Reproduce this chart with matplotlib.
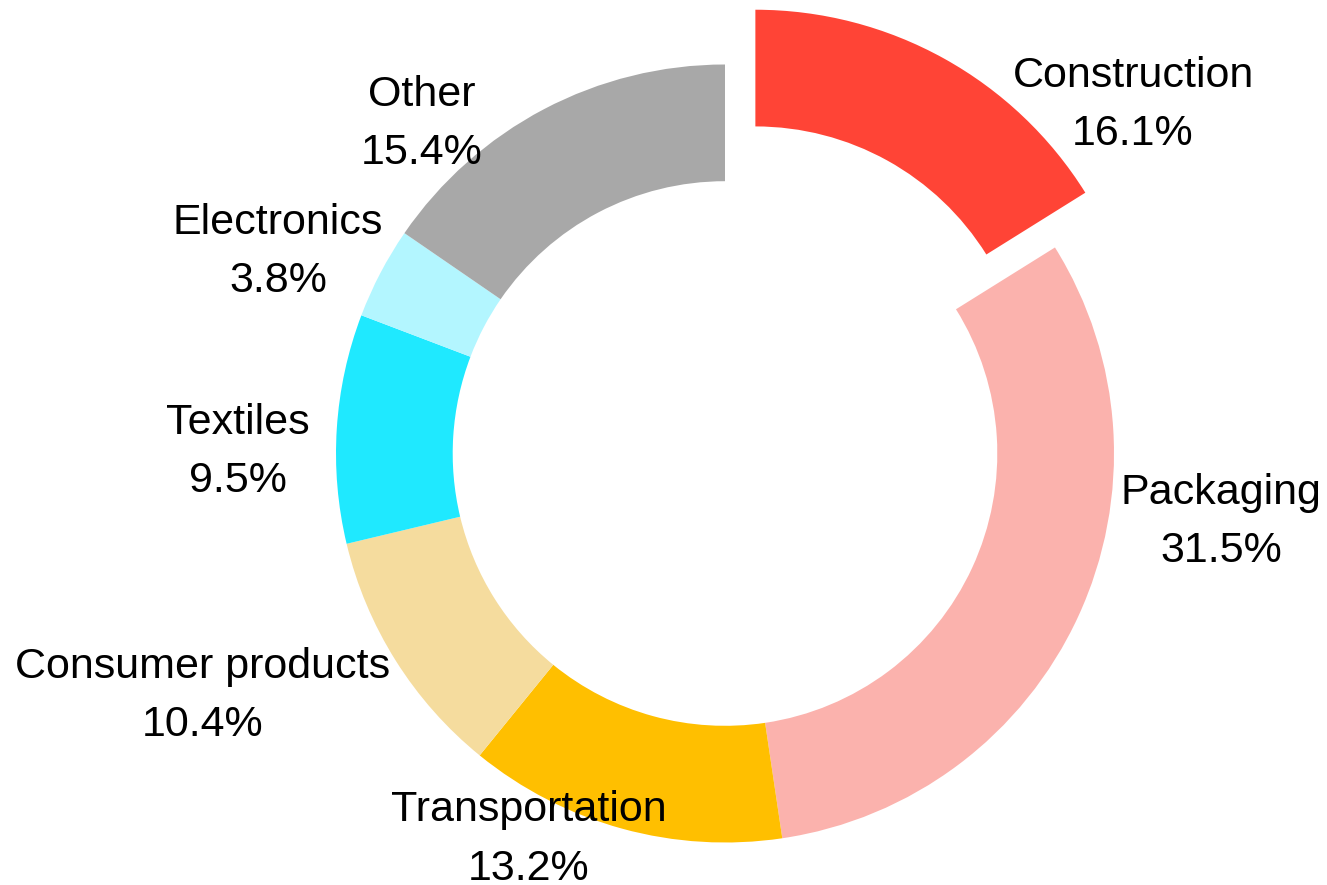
# Plastic use by sector - donut chart
import matplotlib
matplotlib.use("Agg")
import matplotlib.pyplot as plt

sectors = ["Construction", "Packaging", "Transportation", "Consumer products",
           "Textiles", "Electronics", "Other"]
shares = [16.1, 31.5, 13.2, 10.4, 9.5, 3.8, 15.4]
colors = ["#FF4436", "#FBB2AD", "#FFBF00", "#F5DC9E", "#1FE9FF", "#B3F6FF", "#A8A8A8"]
explode = [0.161, 0, 0, 0, 0, 0, 0]

# label centres, in units of the outer radius
label_pos = [(1.049, 0.896), (1.275, -0.176), (-0.504, -0.993), (-1.342, -0.623),
             (-1.252, 0.004), (-1.149, 0.518), (-0.779, 0.847)]

plt.rcParams["font.family"] = ["Liberation Sans", "DejaVu Sans"]

fig = plt.figure(figsize=(13.27, 8.85), dpi=100)
ax = fig.add_axes([0, 0, 1, 1])
ax.pie(shares, colors=colors, explode=explode, startangle=90, counterclock=False,
       radius=1.0, wedgeprops=dict(width=0.30, linewidth=0))

for name, val, (x, y) in zip(sectors, shares, label_pos):
    ax.text(x, y, f"{name}\n{val:.1f}%", ha="center", va="center",
            fontsize=31, linespacing=1.6, color="black")

ax.set_xlim(-725 / 389, (1327 - 725) / 389)
ax.set_ylim(-(885 - 453.5) / 389, 453.5 / 389)
ax.axis("off")

fig.savefig("out.png", dpi=100, facecolor="white")
